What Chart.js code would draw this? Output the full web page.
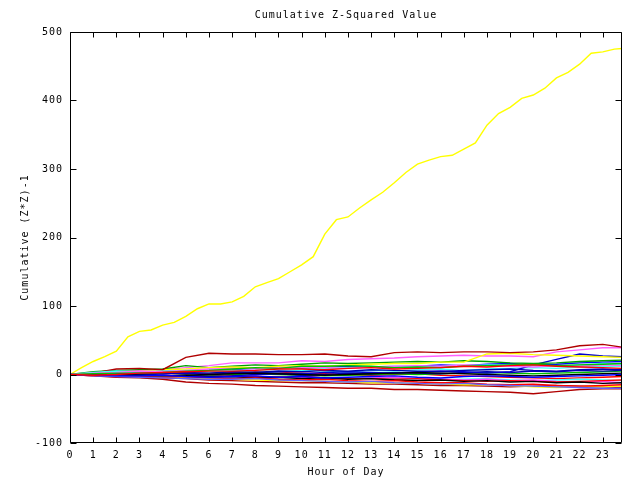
<!DOCTYPE html>
<html>
<head>
<meta charset="utf-8">
<script src="https://cdn.jsdelivr.net/npm/chart.js@4.4.0/dist/chart.umd.min.js"></script>
<style>
  html, body { margin: 0; padding: 0; background: #fff; }
  #wrap { width: 640px; height: 480px; }
</style>
</head>
<body>
<div id="wrap"><canvas id="zChart" width="640" height="480"></canvas></div>
<script>
// hours of day (x values)
const hours = [0,1,2,3,4,5,6,7,8,9,10,11,12,13,14,15,16,17,18,19,20,21,22,23,23.83];
const halfHours = [0,0.5,1,1.5,2,2.5,3,3.5,4,4.5,5,5.5,6,6.5,7,7.5,8,8.5,9,9.5,10,10.5,11,11.5,
                   12,12.5,13,13.5,14,14.5,15,15.5,16,16.5,17,17.5,18,18.5,19,19.5,20,20.5,21,21.5,
                   22,22.5,23,23.5,23.83];
const xTicks = [0,1,2,3,4,5,6,7,8,9,10,11,12,13,14,15,16,17,18,19,20,21,22,23];
const yTicks = [-100,0,100,200,300,400,500];
const chartTitle = 'Cumulative Z-Squared Value';

// the one series that runs away (read at half-hour steps)
const bigYellow = [0,10,19,26,34,55,63,65,72,76,85,96,103,103,106,114,128,134,140,150,160,172,205,226,
                   230,243,255,266,280,295,307,313,318,320,329,338,364,381,390,403,408,418,433,441,
                   453,469,471,475,476];

// the rest, read at each hour
const darkRedTop   = [0,2,8,9,7,25,31,30,30,29,29,30,27,26,32,33,32,33,33,32,33,36,42,44,40];
const darkRedLow   = [0,-2,-4,-5,-7,-11,-13,-14,-16,-17,-18,-19,-20,-20,-22,-22,-23,-24,-25,-26,-28,-25,-22,-21,-21];
const darkRedLow2  = [0,-1,-3,-4,-5,-6,-8,-9,-10,-11,-12,-12,-13,-14,-14,-15,-16,-16,-17,-18,-17,-16,-17,-18,-19];
const magentaTop   = [0,3,5,6,7,10,13,17,17,17,20,19,22,23,24,26,27,28,27,27,26,33,36,39,39];
const blueRise     = [0,1,0,-1,1,2,0,2,3,2,1,3,4,3,2,4,5,4,2,4,14,22,30,27,26];
const yellowJump   = [0,2,4,5,7,8,10,11,10,12,13,12,14,15,16,16,18,18,30,31,29,28,27,26,25];
const greenTop     = [0,4,6,7,8,13,10,12,14,13,15,17,16,17,18,19,18,20,19,17,16,17,19,20,21];
const green2       = [0,1,2,2,3,5,6,8,10,9,12,12,13,12,10,11,10,12,13,14,15,13,14,15,16];
const cyan1        = [0,3,5,4,5,6,7,6,6,8,10,9,10,11,12,12,11,13,14,14,13,12,14,16,15];
const cyan2        = [0,1,2,3,2,4,4,5,3,4,6,5,4,6,5,7,8,6,8,9,10,9,11,12,12];
const red1         = [0,-1,0,2,3,4,5,5,6,8,8,7,9,10,8,9,10,12,11,13,14,12,11,10,9];
const red2         = [0,-2,-3,-3,-4,-3,-5,-6,-5,-7,-8,-7,-9,-10,-9,-11,-12,-12,-14,-15,-14,-16,-17,-16,-15];
const red3         = [0,0,-1,-2,-1,-2,-3,-2,-3,-4,-3,-5,-6,-6,-7,-6,-8,-9,-10,-9,-10,-11,-10,-9,-8];
const blue2        = [0,-1,-2,-2,-1,-3,-4,-3,-2,-4,-3,-5,-4,-3,-2,-4,-5,-3,-2,-3,-4,-3,-2,-1,0];
const darkBlue1    = [0,1,1,2,1,3,2,4,3,5,4,6,5,7,6,5,4,6,7,8,6,5,7,8,7];
const darkBlue2    = [0,-1,-1,0,-2,-1,-3,-2,0,1,-1,0,2,1,3,2,1,3,4,3,5,4,6,5,6];
const magenta2     = [0,2,3,5,4,6,8,9,8,10,11,10,9,11,12,13,12,14,13,12,11,13,12,14,13];
const lightBlue    = [0,-2,-3,-4,-5,-6,-7,-7,-6,-8,-9,-10,-11,-10,-12,-13,-14,-13,-15,-16,-17,-18,-19,-20,-20];
const black1       = [0,1,0,-1,-2,-1,0,1,2,1,0,-1,0,1,2,3,2,1,0,-1,-2,-1,0,1,2];
const yellowLow    = [0,-1,-2,-3,-3,-5,-6,-7,-8,-9,-9,-10,-11,-12,-12,-13,-14,-15,-15,-16,-18,-19,-18,-18,-17];
const green3       = [0,-1,0,-1,-2,-1,-2,0,1,0,-1,-2,-1,0,1,0,1,2,3,2,1,2,3,4,5];
const red4         = [0,1,2,3,2,1,2,3,4,3,2,1,0,-1,0,1,-1,-2,-3,-4,-5,-6,-5,-4,-3];
const cyan3        = [0,-1,-1,-2,-2,-3,-2,-4,-5,-4,-6,-7,-6,-5,-6,-7,-8,-7,-6,-8,-9,-8,-7,-8,-9];
const blue3        = [0,2,3,4,5,4,6,7,9,10,9,11,12,11,10,12,14,13,15,16,14,15,17,18,19];
const magenta3     = [0,-1,-2,-1,-3,-2,-4,-3,-5,-4,-3,-5,-6,-5,-4,-6,-7,-8,-7,-9,-8,-10,-11,-10,-12];
const black2       = [0,1,-1,-2,-2,-3,-4,-3,-5,-4,-6,-5,-7,-6,-8,-9,-8,-10,-9,-11,-10,-12,-11,-13,-12];

const seriesList = [
  [red1, '#ff0000'], [green2, '#00c000'], [blue2, '#0000ff'], [magenta2, '#ff60ff'],
  [cyan1, '#40ffff'], [darkRedTop, '#b00000'], [yellowJump, '#ffff00'], [black1, '#000000'],
  [darkBlue1, '#0000b0'], [lightBlue, '#6060ff'], [red2, '#ff0000'], [greenTop, '#00a000'],
  [blueRise, '#0000d0'], [magentaTop, '#ff60ff'], [cyan2, '#40ffff'], [darkRedLow, '#b00000'],
  [yellowLow, '#ffff00'], [black2, '#000000'], [darkBlue2, '#0000b0'], [red3, '#ff0000'],
  [green3, '#00c000'], [blue3, '#0000ff'], [magenta3, '#ff40ff'], [cyan3, '#40ffff'],
  [darkRedLow2, '#b00000'], [red4, '#ff0000']
];

const datasets = seriesList.map(([vals, col]) => ({
  data: vals.map((v, i) => ({x: hours[i], y: v})),
  borderColor: col,
  borderWidth: 1.4,
  pointRadius: 0,
  tension: 0,
  fill: false
}));
datasets.push({
  data: bigYellow.map((v, i) => ({x: halfHours[i], y: v})),
  borderColor: '#ffff00',
  borderWidth: 1.4,
  pointRadius: 0,
  tension: 0,
  fill: false
});

const MONO = "'DejaVu Sans Mono', monospace";
Chart.defaults.color = '#000';
Chart.defaults.font.family = MONO;
Chart.defaults.font.size = 10;

// wider letter spacing, closer to the bitmap font of the original
const spacingPlugin = {
  id: 'spacing',
  beforeDraw(chart) { chart.ctx.letterSpacing = '1px'; }
};

// gnuplot style frame with inward ticks on every side, plus the title over the plot
const framePlugin = {
  id: 'frame',
  afterDraw(chart) {
    const {ctx, chartArea: a, scales: {x, y}} = chart;
    const L = Math.round(a.left) + 0.5, R = Math.round(a.right) - 0.5;
    const T = Math.round(a.top) + 0.5, B = Math.round(a.bottom) - 0.5;
    ctx.save();
    ctx.strokeStyle = '#000';
    ctx.lineWidth = 1;
    ctx.beginPath();
    ctx.rect(L, T, R - L, B - T);
    xTicks.forEach(v => {
      const px = Math.round(x.getPixelForValue(v)) + 0.5;
      ctx.moveTo(px, B); ctx.lineTo(px, B - 5);
      ctx.moveTo(px, T); ctx.lineTo(px, T + 5);
    });
    yTicks.forEach(v => {
      const py = Math.round(y.getPixelForValue(v)) + 0.5;
      ctx.moveTo(L, py); ctx.lineTo(L + 6, py);
      ctx.moveTo(R, py); ctx.lineTo(R - 6, py);
    });
    ctx.stroke();

    ctx.fillStyle = '#000';
    ctx.font = '10px ' + MONO;
    ctx.letterSpacing = '1px';
    ctx.textAlign = 'center';
    ctx.textBaseline = 'middle';
    ctx.fillText(chartTitle, (a.left + a.right) / 2, 15);
    ctx.restore();
  }
};

new Chart(document.getElementById('zChart'), {
  type: 'line',
  data: { datasets },
  plugins: [spacingPlugin, framePlugin],
  options: {
    responsive: false,
    animation: false,
    layout: { padding: { left: 0, right: 18, top: 32, bottom: 0 } },
    plugins: {
      legend: { display: false },
      tooltip: { enabled: false },
      title: { display: false }
    },
    scales: {
      x: {
        type: 'linear',
        min: 0,
        max: 23.83,
        afterBuildTicks: s => { s.ticks = xTicks.map(v => ({value: v})); },
        afterFit: s => { s.height = 37; },
        ticks: { autoSkip: false, maxRotation: 0, padding: 6, callback: v => String(v) },
        grid: { display: false, drawTicks: false },
        border: { display: false },
        title: { display: true, text: 'Hour of Day', padding: { top: 0, bottom: 2 } }
      },
      y: {
        min: -100,
        max: 500,
        afterBuildTicks: s => { s.ticks = yTicks.map(v => ({value: v})); },
        afterFit: s => { s.width = 70; },
        ticks: { padding: 7 },
        grid: { display: false, drawTicks: false },
        border: { display: false },
        title: { display: true, text: 'Cumulative (Z*Z)-1', padding: { top: 19, bottom: 0 } }
      }
    }
  }
});
</script>
</body>
</html>
